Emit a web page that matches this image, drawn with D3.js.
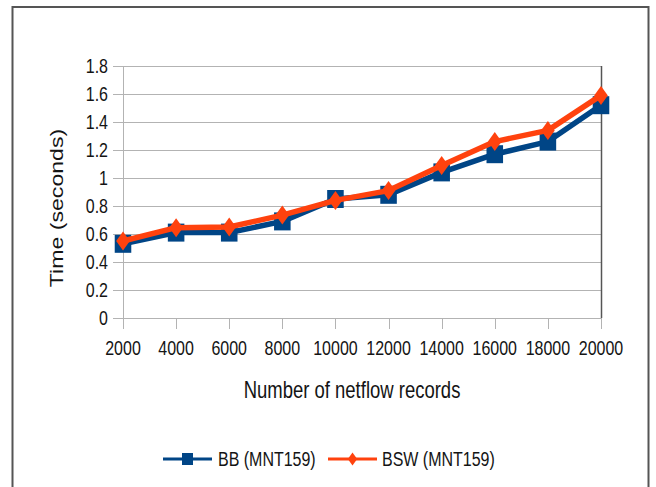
<!DOCTYPE html>
<html><head><meta charset="utf-8">
<script src="https://cdn.jsdelivr.net/npm/d3@7"></script>
<style>html,body{margin:0;padding:0;background:#fff;}svg{display:block;}</style>
</head><body>
<script>
const categories = [2000, 4000, 6000, 8000, 10000, 12000, 14000, 16000, 18000, 20000];
const bbValues  = [0.53, 0.61, 0.61, 0.69, 0.85, 0.88, 1.04, 1.17, 1.26, 1.52];
const bswValues = [0.55, 0.645, 0.65, 0.735, 0.84, 0.91, 1.09, 1.26, 1.34, 1.59];
const yTicks = [0, 0.2, 0.4, 0.6, 0.8, 1, 1.2, 1.4, 1.6, 1.8];
const seriesNames = ["BB (MNT159)", "BSW (MNT159)"];
const colors = ["#004586", "#ff420e"];

const W = 656, H = 487;
const FONT = "'Liberation Sans', Arial, sans-serif";
const SY = 1.27; // vertical stretch of glyphs in reference
const svg = d3.select("body").append("svg").attr("width", W).attr("height", H);
svg.append("rect").attr("width", W).attr("height", H).attr("fill", "#fff");
svg.append("rect").attr("x", 12.5).attr("y", 7).attr("width", 636).attr("height", 520)
  .attr("fill", "none").attr("stroke", "#555").attr("stroke-width", 2);

const x = d3.scalePoint().domain(categories).range([123, 601]);
const y = d3.scaleLinear().domain([0, 1.8]).range([318, 66]);

// gridlines
const grid = svg.append("g");
grid.selectAll("line").data(yTicks).join("line")
  .attr("x1", 113).attr("x2", 601)
  .attr("y1", d => Math.round(y(d)) + 0.5).attr("y2", d => Math.round(y(d)) + 0.5)
  .attr("stroke", "#b3b3b3").attr("stroke-width", 1);
// x ticks
grid.selectAll("line.xt").data(categories).join("line").attr("class", "xt")
  .attr("x1", d => Math.round(x(d)) + 0.5).attr("x2", d => Math.round(x(d)) + 0.5)
  .attr("y1", 318).attr("y2", 329).attr("stroke", "#b3b3b3");
// left axis line
svg.append("line").attr("x1", 123.5).attr("x2", 123.5).attr("y1", y(1.8)).attr("y2", y(0))
  .attr("stroke", "#b3b3b3");
// right border line
svg.append("line").attr("x1", 601.5).attr("x2", 601.5).attr("y1", y(1.8)).attr("y2", y(0))
  .attr("stroke", "#555").attr("stroke-width", 1.5);

function stretchedText(px, py, txt, size, anchor, rotate) {
  const g = svg.append("g").attr("transform",
    `translate(${px},${py})` + (rotate ? ` rotate(-90) scale(${SY},1)` : ` scale(1,${SY})`));
  return g.append("text").text(txt).attr("font-family", FONT).attr("font-size", size)
    .attr("text-anchor", anchor).attr("fill", "#141414");
}

// y tick labels
yTicks.forEach(t => {
  stretchedText(108, y(t), d3.format("")(+t.toFixed(1)), 16, "end").attr("dy", "0.36em");
});
// x tick labels
categories.forEach(c => {
  stretchedText(x(c), 355, String(c), 16, "middle");
});
// axis titles
stretchedText(352, 398, "Number of netflow records", 18.5, "middle");
stretchedText(63, 208, "Time (seconds)", 18.2, "middle", true);

const line = d3.line().x((d, i) => x(categories[i])).y(d => y(d));
const diamond = {draw(ctx, size) { const w = size * 0.72, h = size; ctx.moveTo(0, -h); ctx.lineTo(w, 0); ctx.lineTo(0, h); ctx.lineTo(-w, 0); ctx.closePath(); }};
const square = {draw(ctx, size) { const w = size * 0.92, h = size; ctx.rect(-w, -h, 2 * w, 2 * h); }};

// BB series
svg.append("path").datum(bbValues).attr("d", line).attr("fill", "none")
  .attr("stroke", colors[0]).attr("stroke-width", 5.5).attr("stroke-linejoin", "round");
svg.append("g").selectAll("path").data(bbValues).join("path")
  .attr("transform", (d, i) => `translate(${x(categories[i])},${y(d)})`)
  .attr("d", d3.symbol(square, 9)()).attr("fill", colors[0]);
// BSW series
svg.append("path").datum(bswValues).attr("d", line).attr("fill", "none")
  .attr("stroke", colors[1]).attr("stroke-width", 5.5).attr("stroke-linejoin", "round");
svg.append("g").selectAll("path").data(bswValues).join("path")
  .attr("transform", (d, i) => `translate(${x(categories[i])},${y(d)})`)
  .attr("d", d3.symbol(diamond, 9.5)()).attr("fill", colors[1]);

// legend
const legend = [
  {name: seriesNames[0], color: colors[0], sym: square, size: 6, x0: 163, x1: 212, tx: 218},
  {name: seriesNames[1], color: colors[1], sym: diamond, size: 6.5, x0: 328, x1: 377, tx: 382}
];
const ly = 459;
legend.forEach(l => {
  svg.append("line").attr("x1", l.x0).attr("x2", l.x1).attr("y1", ly).attr("y2", ly)
    .attr("stroke", l.color).attr("stroke-width", 3);
  svg.append("path").attr("transform", `translate(${(l.x0 + l.x1) / 2},${ly})`)
    .attr("d", d3.symbol(l.sym, l.size)()).attr("fill", l.color);
  stretchedText(l.tx, ly, l.name, 16, "start").attr("dy", "0.36em");
});
</script>
</body></html>
